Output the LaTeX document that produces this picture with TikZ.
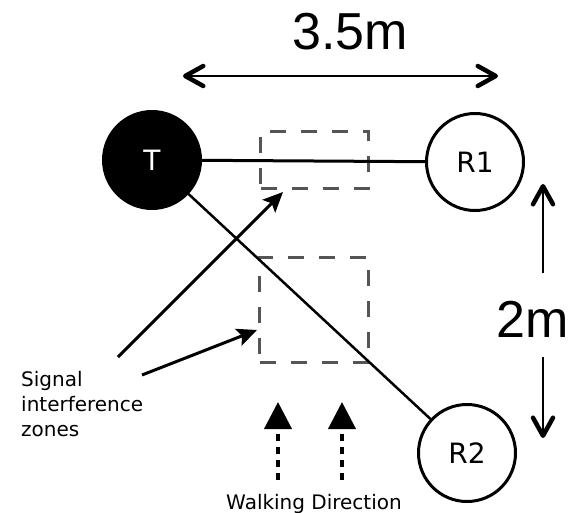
\documentclass[tikz,border=0pt]{standalone}
\usepackage{fontspec}
\setmainfont{DejaVu Sans}
\newfontfamily\dimfont{Liberation Sans}
\usetikzlibrary{arrows.meta}
\definecolor{zonegray}{HTML}{555555}
\tikzset{chevron/.tip={Straight Barb[length=18pt,width=20pt,line width=4.5pt,round]}}

\begin{document}
\begin{tikzpicture}[x=1pt,y=-1pt,
    station/.style={circle,draw=black,line width=3pt,minimum size=97pt,inner sep=0pt,font=\fontsize{28}{30}\selectfont},
    zone/.style={draw=zonegray,line width=3pt,dash pattern=on 16pt off 15pt,inner sep=0pt},
    link/.style={line width=3pt},
    dimline/.style={line width=2pt,chevron-chevron},
    dimarrow/.style={line width=2pt,-chevron},
    pointer/.style={line width=3pt,-{Stealth[length=20pt,width=18pt,inset=4pt]}},
    walk/.style={line width=4pt,dash pattern=on 7pt off 6pt,-{Triangle[length=27pt,width=27pt]}},
    dimlabel/.style={font=\dimfont\fontsize{52}{52}\selectfont,inner sep=0pt,anchor=base},
    txt/.style={font=\fontsize{20}{25}\selectfont,inner sep=0pt}]
        \useasboundingbox (0,0) rectangle (578,513);
        \node[zone,minimum width=108pt,minimum height=57pt] (zone1) at (314.5,160) {};
        \node[zone,minimum width=109pt,minimum height=105pt] (zone2) at (314,310) {};
        \node[station,fill=black,text=white] (T) at (152,160) {T};
        \node[station] (R1) at (475,162) {R1};
        \node[station] (R2) at (467,453) {R2};
        \draw[link] (T) -- (R1);
        \draw[link,line width=2.5pt] (T) -- (R2);
        \node[dimlabel] (width) at (350,50) {3.5m};
        \node[dimlabel] (height) at (533,337) {2m};
        \coordinate (dimL) at (183,76);
        \coordinate (dimR) at (498,76);
        \draw[dimline] (dimL) -- (dimR);
        \coordinate (dimT) at (543,184);
        \coordinate (dimB) at (543,438);
        \coordinate (gapT) at (543,273);
        \coordinate (gapB) at (543,357);
        \draw[dimarrow] (gapT) -- (dimT);
        \draw[dimarrow] (gapB) -- (dimB);
        \node[txt,anchor=west,align=left] (signal) at (21,404.5) {Signal\\interference\\zones};
        \coordinate (p1) at (118,357);
        \coordinate (p1tip) at (283,192);
        \coordinate (p2) at (142,375);
        \coordinate (p2tip) at (257,330);
        \draw[pointer] (p1) -- (p1tip);
        \draw[pointer] (p2) -- (p2tip);
        \coordinate (w1) at (278,480);
        \coordinate (w1tip) at (278,402);
        \coordinate (w2) at (342,480);
        \coordinate (w2tip) at (342,402);
        \draw[walk] (w1) -- (w1tip);
        \draw[walk] (w2) -- (w2tip);
        \node[txt,anchor=base] (walking) at (314,509) {Walking Direction};
    \end{tikzpicture}
\end{document}
